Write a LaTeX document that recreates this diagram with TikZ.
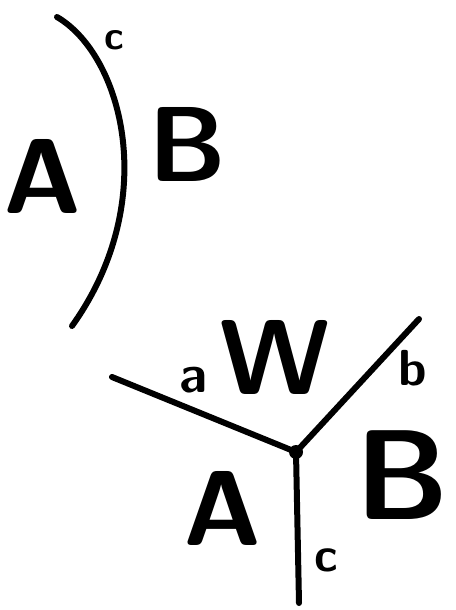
\documentclass[tikz,border=0pt]{standalone}
\usetikzlibrary{calc}
\begin{document}
\begin{tikzpicture}[x=0.75pt,y=-0.75pt,
  stroke/.style={line width=4.5pt,line cap=round,line join=round},
  big/.style={inner sep=0pt,font=\sffamily\bfseries\fontsize{80}{80}\selectfont},
  small/.style={inner sep=0pt,font=\sffamily\bfseries\fontsize{#1}{#1}\selectfont}]
\useasboundingbox (0,0) rectangle (456,610);
% top picture
\coordinate (t1) at (57,17);
\coordinate (t2) at (72,326);
\draw[stroke] (t1) .. controls (122,55) and (162,200) .. (t2);
\node[small=30] (c1) at (114,40) {c};
\node[big] (A1) at (43,176) {A};
\node[big] (B1) at (188,144) {B};
% bottom picture
\coordinate (j) at (296,452);
\coordinate (ea) at (112,377);
\coordinate (eb) at (419,319);
\coordinate (ec) at (299,603);
\draw[stroke] (ea) -- (j);
\draw[stroke] (eb) -- (j);
\draw[stroke] (j) -- (ec);
\fill (j) circle (7);
\node[small=40] (la) at (193,380) {a};
\node[small=38] (lb) at (413,368) {b};
\node[small=36] (lc) at (326,560) {c};
\node[big] (W) at (275,357) {W};
\node[big] (A2) at (223,508) {A};
\node[big,font=\sffamily\bfseries\fontsize{96}{96}\selectfont] (B2) at (402,475) {B};
\end{tikzpicture}
\end{document}
